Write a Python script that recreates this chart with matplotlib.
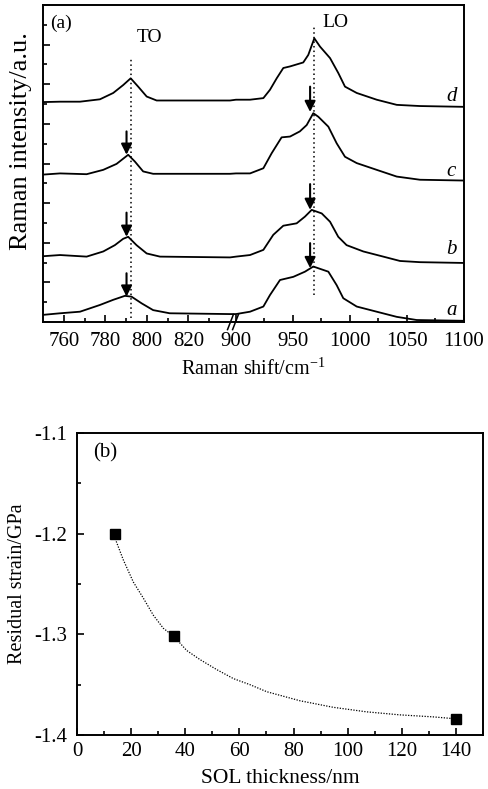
import numpy as np
import matplotlib
matplotlib.use("Agg")
import matplotlib.pyplot as plt
from matplotlib.ticker import MultipleLocator, FixedLocator, NullFormatter

plt.rcParams['font.family'] = ['Liberation Serif', 'DejaVu Serif']
plt.rcParams['mathtext.fontset'] = 'custom'
plt.rcParams['mathtext.rm'] = 'Liberation Serif'
plt.rcParams['axes.unicode_minus'] = False

# ---- panel (a): Raman spectra (offset) ----
a_x = [750, 758.2, 767.8, 777.4, 783.8, 789.4, 792.6, 797.5, 803, 811, 840,
       900, 912.3, 924, 929.8, 938.6, 950.3, 960.5, 967.8, 981, 988.3, 994.1, 1005.9,
       1023.4, 1041, 1058.5, 1100]
a_y = [0.18, 0.22, 0.26, 0.43, 0.56, 0.66, 0.64, 0.47, 0.30, 0.22, 0.20,
       0.20, 0.26, 0.39, 0.68, 1.06, 1.14, 1.27, 1.40, 1.27, 0.93, 0.60, 0.39,
       0.26, 0.13, 0.05, 0.03]

b_x = [750, 758.2, 771, 779, 784.6, 788.6, 791, 795, 799.9, 806.3, 840,
       900, 912.3, 924, 932.7, 941.5, 953.2, 960.5, 966.4, 975.2, 982.5, 989.7, 997,
       1011.7, 1029.2, 1043.9, 1061.4, 1100]
b_y = [1.66, 1.69, 1.65, 1.78, 1.94, 2.10, 2.15, 1.94, 1.73, 1.65, 1.63,
       1.65, 1.69, 1.82, 2.20, 2.43, 2.49, 2.66, 2.83, 2.74, 2.53, 2.15, 1.94,
       1.78, 1.65, 1.54, 1.51, 1.49]

c_x = [750, 758.2, 771, 779, 785.4, 791, 794.2, 798.2, 803, 840,
       900, 912.3, 924, 931.3, 940, 947.4, 956, 962, 967.8, 972.2, 981, 988.3, 995.6,
       1005.9, 1023.4, 1041, 1061.4, 1100]
c_y = [3.72, 3.75, 3.73, 3.84, 3.99, 4.22, 4.05, 3.80, 3.74, 3.74,
       3.75, 3.75, 3.88, 4.26, 4.66, 4.68, 4.81, 4.97, 5.27, 5.18, 4.93, 4.51, 4.17,
       4.01, 3.84, 3.67, 3.59, 3.57]

d_x = [750, 758.2, 767.8, 777.4, 783.8, 788.6, 792.2, 795.8, 799.9, 804.7, 820.7, 840,
       900, 912.3, 924, 929.8, 935.7, 941.5, 947.4, 959, 963.4, 968.7, 973.7, 982.5, 989.8,
       995.6, 1005.9, 1023.4, 1041, 1061.4, 1100]
d_y = [5.55, 5.56, 5.56, 5.62, 5.78, 5.98, 6.15, 5.94, 5.69, 5.59, 5.59, 5.59,
       5.61, 5.61, 5.65, 5.86, 6.15, 6.41, 6.45, 6.55, 6.74, 7.16, 6.95, 6.66, 6.28,
       5.94, 5.78, 5.61, 5.48, 5.45, 5.43]

spectra = [(a_x, a_y, 'a'), (b_x, b_y, 'b'), (c_x, c_y, 'c'), (d_x, d_y, 'd')]
label_y = [0.30, 1.82, 3.79, 5.68]

# arrows marking peaks (x, top, tip)
arrow_x = [790.2, 790.2, 790.2, 965, 965, 965]
arrow_top = [1.23, 2.76, 4.81, 1.99, 3.48, 5.94]
arrow_tip = [0.64, 2.15, 4.22, 1.36, 2.83, 5.30]

to_pos, lo_pos = 792.2, 968.5
to_span = (0.1, 6.69)
lo_span = (0.68, 7.5)

major_a = [760, 780, 800, 820, 900, 950, 1000, 1050, 1100]
minor_a = [770, 790, 810, 830, 925, 975, 1025, 1075]

# ---- panel (b): residual strain ----
thick = [14, 36, 140]
strain = [-1.200, -1.302, -1.384]
fit_x = [13.4, 17.1, 20.8, 24.5, 28.2, 31.9, 35.8, 40.5, 45.4, 51.6, 57.8, 63.9,
         70.1, 82.4, 94.7, 107, 119.3, 131.6, 140.3]
fit_y = [-1.200, -1.226, -1.248, -1.264, -1.281, -1.294, -1.302, -1.316, -1.325, -1.335,
         -1.344, -1.350, -1.357, -1.366, -1.3725, -1.377, -1.380, -1.382, -1.384]

# broken x axis: 750-840 and 900-1100 share the width
brk_x = [750, 840, 900, 1100]
brk_u = [0, 187, 193, 421]


def fwd(x):
    return np.interp(x, brk_x, brk_u)


def inv(u):
    return np.interp(u, brk_u, brk_x)


fig = plt.figure(figsize=(4.89, 7.89), dpi=100)

ax = fig.add_axes([43 / 489, 1 - 322 / 789, 421 / 489, 317 / 789])
ax.set_xscale('function', functions=(fwd, inv))
for xs, ys, name in spectra:
    ax.plot(xs, ys, color='k', lw=1.3)
for ly, (_, _, name) in zip(label_y, spectra):
    ax.text(1089, ly, name, fontsize=15, style='italic', ha='center', va='center')
for x, t, h in zip(arrow_x, arrow_top, arrow_tip):
    ax.annotate('', xy=(x, h), xytext=(x, t),
                arrowprops=dict(arrowstyle='-|>', color='k', lw=1.5, mutation_scale=16,
                                shrinkA=0, shrinkB=0))
ax.plot([to_pos, to_pos], to_span, color='k', ls=(0, (1, 2)), lw=1.1)
ax.plot([lo_pos, lo_pos], lo_span, color='k', ls=(0, (1, 2)), lw=1.1)
ax.text(801, 7.17, 'TO', fontsize=14, ha='center', va='center')
ax.text(987, 7.55, 'LO', fontsize=14, ha='center', va='center')
ax.text(0.043, 0.943, '(a)', transform=ax.transAxes, fontsize=14, ha='center', va='center')

ax.set_xlim(750, 1100)
ax.set_ylim(0, 8)
ax.xaxis.set_major_locator(FixedLocator(major_a))
ax.xaxis.set_minor_locator(FixedLocator(minor_a))
ax.xaxis.set_minor_formatter(NullFormatter())
ax.yaxis.set_major_locator(MultipleLocator(1))
ax.yaxis.set_minor_locator(MultipleLocator(0.5))
ax.set_yticklabels([])
ax.tick_params(which='both', direction='in', top=False, right=False, labelsize=15, width=1.2)
ax.tick_params(which='major', length=5, pad=7)
ax.tick_params(which='minor', length=3)
for s in ax.spines.values():
    s.set_linewidth(1.4)
ax.set_xlabel('Raman shift/cm$^{-1}$', fontsize=14.5, labelpad=5)
ax.set_ylabel('Raman intensity/a.u.', fontsize=19)
ax.yaxis.set_label_coords(-0.027, 0.571)

# break marks on the bottom axis
xf = fwd(870) / fwd(1100)
for off in (-0.006, 0.006):
    ax.plot([xf + off - 0.007, xf + off + 0.007], [-0.024, 0.024], color='k', lw=1.1,
            transform=ax.transAxes, clip_on=False)

# ---- panel (b) ----
bx = fig.add_axes([77 / 489, 1 - 735 / 789, 406 / 489, 302 / 789])
bx.plot(fit_x, fit_y, color='k', ls=(0, (1, 1.2)), lw=0.9)
bx.plot(thick, strain, 's', color='k', ms=6.5)
bx.text(0.07, 0.935, '(b)', transform=bx.transAxes, fontsize=15, ha='center', va='center')
bx.set_xlim(0, 150)
bx.set_ylim(-1.4, -1.1)
bx.xaxis.set_major_locator(MultipleLocator(20))
bx.xaxis.set_minor_locator(MultipleLocator(10))
bx.yaxis.set_major_locator(MultipleLocator(0.1))
bx.yaxis.set_minor_locator(MultipleLocator(0.05))
bx.yaxis.set_major_formatter(plt.FuncFormatter(lambda v, p: f'{v:.1f}'))
bx.tick_params(which='both', direction='in', top=False, right=False, labelsize=15, width=1.2)
bx.tick_params(which='major', length=5)
bx.tick_params(axis='x', which='major', pad=5)
bx.tick_params(axis='y', which='major', pad=7)
bx.tick_params(which='minor', length=3)
for s in bx.spines.values():
    s.set_linewidth(1.4)
bx.set_xlabel('SOL thickness/nm', fontsize=15.5, labelpad=6)
bx.set_ylabel('Residual strain/GPa', fontsize=14.5, labelpad=5)

fig.savefig('out.png', dpi=100)
